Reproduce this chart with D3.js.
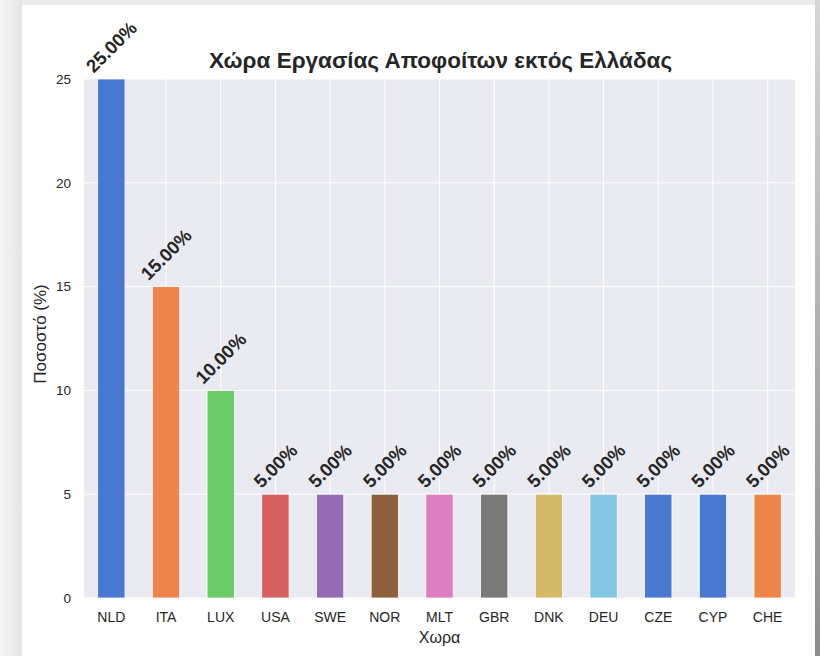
<!DOCTYPE html>
<html><head><meta charset="utf-8">
<script src="https://cdn.jsdelivr.net/npm/d3@7"></script>
<style>html,body{margin:0;padding:0;background:#fff;}svg{display:block;}</style>
</head><body>
<svg id="c" width="820" height="656"></svg>
<script>
const categories = ["NLD","ITA","LUX","USA","SWE","NOR","MLT","GBR","DNK","DEU","CZE","CYP","CHE"];
const values = [25,15,10,5,5,5,5,5,5,5,5,5,5];
const barColors = ["#4878d0","#ee854a","#6acc64","#d65f5f","#956cb4","#8c613c","#dc7ec0","#797979","#d5bb67","#82c6e2","#4878d0","#4878d0","#ee854a"];
const yTicks = [0,5,10,15,20,25];
const title = "Χώρα Εργασίας Αποφοίτων εκτός Ελλάδας";
const xLabel = "Χωρα";
const yLabel = "Ποσοστό (%)";

const svg = d3.select("#c");
const W = 820, H = 656;
const defs = svg.append("defs");
const gL = defs.append("linearGradient").attr("id","gl").attr("x1",0).attr("x2",1).attr("y1",0).attr("y2",0);
gL.append("stop").attr("offset","0").attr("stop-color","#f6f6f6");
gL.append("stop").attr("offset","1").attr("stop-color","#e4e4e4");
const gR = defs.append("linearGradient").attr("id","gr").attr("x1",0).attr("x2",0).attr("y1",0).attr("y2",1);
gR.append("stop").attr("offset","0").attr("stop-color","#d6d6d6");
gR.append("stop").attr("offset","1").attr("stop-color","#8c8c8c");

svg.append("rect").attr("width",W).attr("height",H).attr("fill","#ececec");
svg.append("rect").attr("x",0).attr("y",0).attr("width",22).attr("height",H).attr("fill","url(#gl)");
svg.append("rect").attr("x",815).attr("y",0).attr("width",5).attr("height",H).attr("fill","url(#gr)");
svg.append("rect").attr("x",22).attr("y",5).attr("width",793).attr("height",H).attr("fill","#fff");

const m = {l:84, r:795, t:79, b:598};
const x = d3.scaleBand().domain(categories).range([m.l,m.r]).paddingInner(0).paddingOuter(0);
const y = d3.scaleLinear().domain([0,25]).range([m.b,m.t]);
const bw = x.bandwidth()*0.5;

svg.append("rect").attr("x",m.l).attr("y",m.t).attr("width",m.r-m.l).attr("height",m.b-m.t).attr("fill","#eaeaf2");

// grid
svg.append("g").selectAll("line").data(yTicks).join("line")
  .attr("x1",m.l).attr("x2",m.r).attr("y1",d=>y(d)).attr("y2",d=>y(d))
  .attr("stroke","#fff").attr("stroke-width",1);
svg.append("g").selectAll("line").data(categories).join("line")
  .attr("y1",m.t).attr("y2",m.b).attr("x1",d=>x(d)+x.bandwidth()/2).attr("x2",d=>x(d)+x.bandwidth()/2)
  .attr("stroke","#fff").attr("stroke-width",1);

// bars
svg.append("g").selectAll("rect").data(categories).join("rect")
  .attr("x",d=>x(d)+x.bandwidth()/2-bw/2).attr("width",bw)
  .attr("y",(d,i)=>y(values[i])).attr("height",(d,i)=>y(0)-y(values[i]))
  .attr("fill",(d,i)=>barColors[i]).attr("stroke","#fff").attr("stroke-width",0.8);

const font = "'Liberation Sans', Arial, Helvetica, sans-serif";
const tc = "#262626";

// y ticks
svg.append("g").selectAll("text").data(yTicks).join("text")
  .attr("x",m.l-13).attr("y",d=>y(d)).attr("dy","0.35em").attr("text-anchor","end")
  .attr("font-family",font).attr("font-size",13.5).attr("fill",tc).text(d=>d);
// x ticks
svg.append("g").selectAll("text").data(categories).join("text")
  .attr("x",d=>x(d)+x.bandwidth()/2).attr("y",622).attr("text-anchor","middle")
  .attr("font-family",font).attr("font-size",14).attr("fill",tc).text(d=>d);

// axis labels
svg.append("text").attr("x",(m.l+m.r)/2).attr("y",643).attr("text-anchor","middle")
  .attr("font-family",font).attr("font-size",16).attr("fill",tc).text(xLabel);
svg.append("text").attr("transform",`translate(46,${334}) rotate(-90)`).attr("text-anchor","middle")
  .attr("font-family",font).attr("font-size",17).attr("fill",tc).text(yLabel);

// title
svg.append("text").attr("x",(m.l+m.r)/2+1).attr("y",68).attr("text-anchor","middle")
  .attr("font-family",font).attr("font-size",22.5).attr("font-weight","bold").attr("fill",tc).text(title);

// value labels
const fs = 18.5;
const lg = svg.append("g");
categories.forEach((c,i)=>{
  const t = lg.append("text").attr("font-family",font).attr("font-size",fs).attr("font-weight","bold")
    .attr("fill",tc).attr("text-anchor","middle").attr("dominant-baseline","central")
    .text(d3.format(".2f")(values[i])+"%");
  const w = t.node().getComputedTextLength();
  const h = fs*0.75;
  const bh = (w+h)/Math.SQRT2;
  const cx = x(c)+x.bandwidth()/2;
  const cy = y(values[i]) - 5 - bh/2;
  t.attr("transform",`translate(${cx},${cy}) rotate(-45)`);
});
</script>
</body></html>
